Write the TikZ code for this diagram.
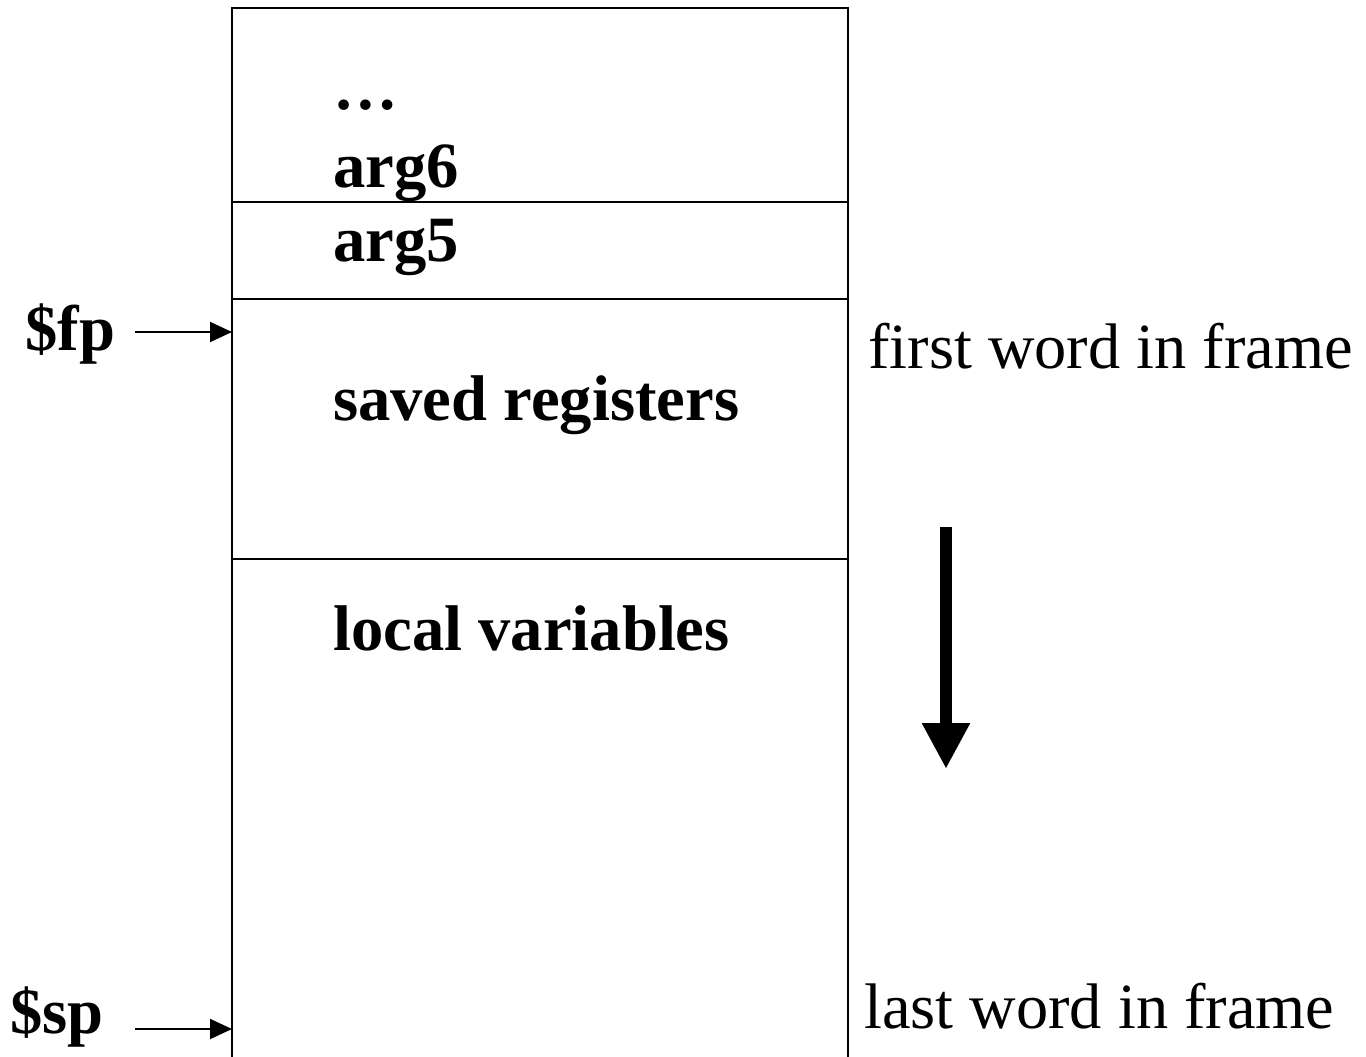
\documentclass[tikz,border=0pt]{standalone}
\usepackage{fontspec}
\setmainfont{Liberation Serif}
\usetikzlibrary{arrows.meta}
\tikzset{
  lbl/.style={anchor=base west, inner sep=0pt, font=\fontsize{64.6}{77}\selectfont\bfseries},
  note/.style={anchor=base west, inner sep=0pt, font=\fontsize{64.4}{77}\selectfont},
  frameline/.style={line width=2pt},
  ptr/.style={line width=2pt, -{Triangle[length=22pt,width=20pt]}},
  growarrow/.style={line width=12pt, -{Triangle[length=46pt,width=45pt]}}
}
\begin{document}
\begin{tikzpicture}[x=1pt,y=-1pt]
\useasboundingbox (0,0) rectangle (1366,1057);
% frame box
\coordinate (tl) at (232,8);
\coordinate (tr) at (848,8);
\coordinate (bl) at (232,1057);
\coordinate (br) at (848,1057);
\draw[frameline] (bl) -- (tl) -- (tr) -- (br);
\draw[frameline] (232,202) -- (848,202);
\draw[frameline] (232,299) -- (848,299);
\draw[frameline] (232,559) -- (848,559);
% cell texts
\node[lbl] (dots) at (333,110) {…};
\node[lbl] (arg6) at (333,187) {arg6};
\node[lbl] (arg5) at (333,261) {arg5};
\node[lbl] (saved) at (333,420) {saved registers};
\node[lbl] (local) at (333,650) {local variables};
% pointers
\node[lbl] (fp) at (25,350) {\$fp};
\node[lbl] (sp) at (10,1033) {\$sp};
\coordinate (fpS) at (135,332);
\coordinate (fpE) at (232,332);
\coordinate (spS) at (135,1029);
\coordinate (spE) at (232,1029);
\draw[ptr] (fpS) -- (fpE);
\draw[ptr] (spS) -- (spE);
% notes
\node[note] (first) at (868,368) {first word in frame};
\node[note] (last) at (864,1028) {last word in frame};
% growth arrow
\coordinate (gS) at (946,527);
\coordinate (gE) at (946,769);
\draw[growarrow] (gS) -- (gE);
\end{tikzpicture}
\end{document}
